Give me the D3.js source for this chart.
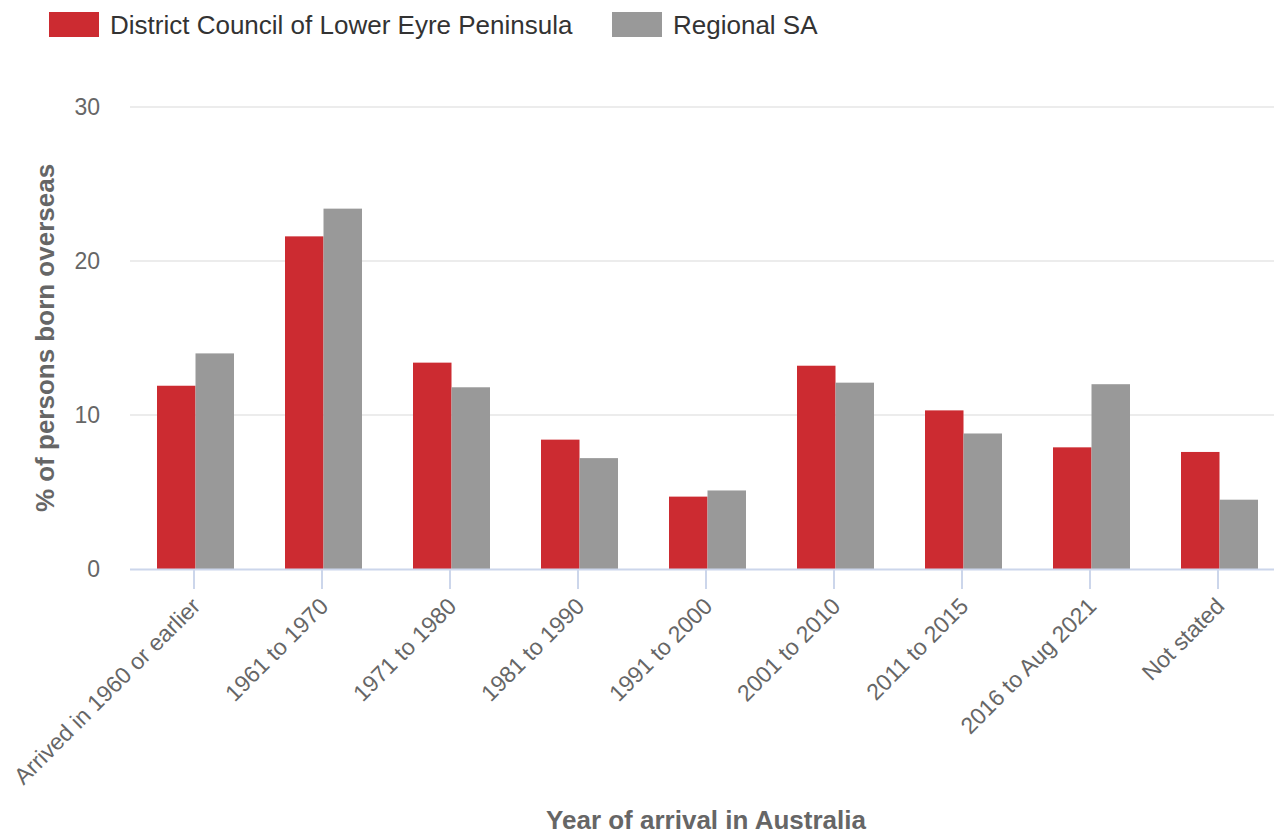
<!DOCTYPE html>
<html>
<head>
<meta charset="utf-8">
<script src="https://cdn.jsdelivr.net/npm/d3@7"></script>
<style>
  body { margin: 0; background: #fff; }
  svg { font-family: "Liberation Sans", Arial, sans-serif; display: block; }
</style>
</head>
<body>
<svg id="chart"></svg>
<script>
// categories and values (% of persons born overseas)
var categories = ["Arrived in 1960 or earlier", "1961 to 1970", "1971 to 1980", "1981 to 1990",
                  "1991 to 2000", "2001 to 2010", "2011 to 2015", "2016 to Aug 2021", "Not stated"];
var seriesNames = ["District Council of Lower Eyre Peninsula", "Regional SA"];
var lowerEyre = [11.9, 21.6, 13.4, 8.4, 4.7, 13.2, 10.3, 7.9, 7.6];
var regionalSA = [14.0, 23.4, 11.8, 7.2, 5.1, 12.1, 8.8, 12.0, 4.5];
var yTicks = [0, 10, 20, 30];
var colors = ["#cc2b31", "#999999"];

var width = 1274, height = 832;
var plot = {left: 130, right: 1282, top: 107, bottom: 569};

var svg = d3.select("#chart")
    .attr("width", width)
    .attr("height", height);

var x0 = d3.scaleBand()
    .domain(categories)
    .range([plot.left, plot.right]);

// the two bars sit side by side inside each category band
var x1 = d3.scaleBand()
    .domain(seriesNames)
    .range([27, 104]);

var y = d3.scaleLinear()
    .domain([0, 30])
    .range([plot.bottom, plot.top]);

// gridlines
svg.append("g")
  .selectAll("line")
  .data(yTicks.filter(d => d > 0))
  .enter().append("line")
    .attr("x1", plot.left)
    .attr("x2", plot.right)
    .attr("y1", d => y(d))
    .attr("y2", d => y(d))
    .attr("stroke", "#e6e6e6")
    .attr("stroke-width", 1.5);

// y tick labels
svg.append("g")
  .selectAll("text")
  .data(yTicks)
  .enter().append("text")
    .attr("x", 100)
    .attr("y", d => y(d))
    .attr("dy", "0.35em")
    .attr("text-anchor", "end")
    .attr("fill", "#666")
    .style("font-size", "23px")
    .text(d => d);

// bars
var data = categories.map(function(c, i) {
  return {cat: c, values: [lowerEyre[i], regionalSA[i]]};
});

var group = svg.append("g")
  .selectAll("g")
  .data(data)
  .enter().append("g")
    .attr("transform", d => "translate(" + x0(d.cat) + ",0)");

group.selectAll("rect")
  .data(d => d.values.map((v, j) => ({name: seriesNames[j], value: v, j: j})))
  .enter().append("rect")
    .attr("x", d => x1(d.name))
    .attr("width", x1.bandwidth())
    .attr("y", d => y(d.value))
    .attr("height", d => y(0) - y(d.value))
    .attr("fill", d => colors[d.j]);

// x axis line and ticks
svg.append("line")
    .attr("x1", plot.left)
    .attr("x2", plot.right)
    .attr("y1", plot.bottom + 0.5)
    .attr("y2", plot.bottom + 0.5)
    .attr("stroke", "#ccd6eb")
    .attr("stroke-width", 2);

svg.append("g")
  .selectAll("line")
  .data(categories)
  .enter().append("line")
    .attr("x1", d => x0(d) + x0.bandwidth() / 2)
    .attr("x2", d => x0(d) + x0.bandwidth() / 2)
    .attr("y1", plot.bottom)
    .attr("y2", plot.bottom + 20)
    .attr("stroke", "#ccd6eb")
    .attr("stroke-width", 2);

// rotated category labels
svg.append("g")
  .selectAll("text")
  .data(categories)
  .enter().append("text")
    .attr("transform", d => "translate(" + (x0(d) + x0.bandwidth() / 2 + 2) + "," + (plot.bottom + 33) + ") rotate(-45)")
    .attr("text-anchor", "end")
    .attr("dy", "0.35em")
    .attr("fill", "#666")
    .style("font-size", "23px")
    .text(d => d);

// axis titles
svg.append("text")
    .attr("transform", "translate(54," + ((plot.top + plot.bottom) / 2) + ") rotate(-90)")
    .attr("text-anchor", "middle")
    .attr("fill", "#666")
    .style("font-size", "26px")
    .style("font-weight", "bold")
    .text("% of persons born overseas");

svg.append("text")
    .attr("x", 706)
    .attr("y", 829)
    .attr("text-anchor", "middle")
    .attr("fill", "#666")
    .style("font-size", "26px")
    .style("font-weight", "bold")
    .text("Year of arrival in Australia");

// legend
var legendX = [49, 612];
var legend = svg.append("g")
  .selectAll("g")
  .data(seriesNames)
  .enter().append("g")
    .attr("transform", (d, i) => "translate(" + legendX[i] + ",12)");

legend.append("rect")
    .attr("width", 50)
    .attr("height", 25)
    .attr("fill", (d, i) => colors[i]);

legend.append("text")
    .attr("x", 61)
    .attr("y", 13)
    .attr("dy", "0.35em")
    .attr("fill", "#333")
    .style("font-size", "26px")
    .text(d => d);
</script>
</body>
</html>
